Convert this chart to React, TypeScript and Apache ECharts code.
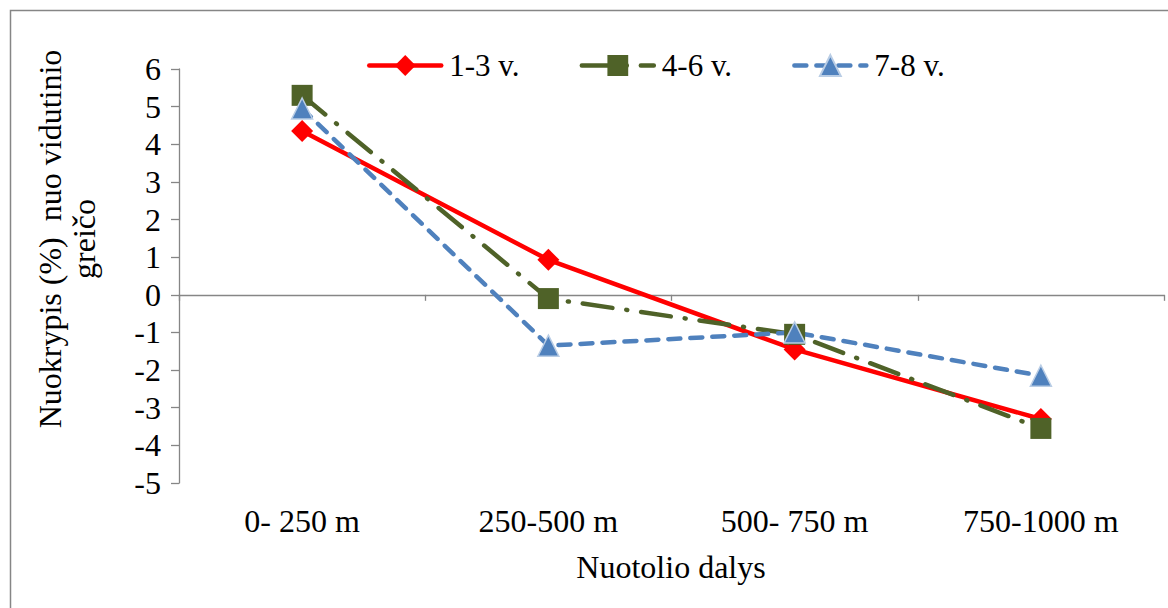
import React, { useEffect, useRef } from "react";
import * as echarts from "echarts";

const categories = ["0- 250 m", "250-500 m", "500- 750 m", "750-1000 m"];
const s13 = [4.35, 0.93, -1.45, -3.3];
const s46 = [5.3, -0.1, -1.05, -3.55];
const s78 = [4.95, -1.35, -1.0, -2.15];
const seriesNames = ["1-3 v.", "4-6 v.", "7-8 v."];
const yMin = -5;
const yMax = 6;
const yInterval = 1;
const yTitleLines = ["Nuokrypis (%)  nuo vidutinio", "greičo"];
const xTitle = "Nuotolio dalys";

const FONT = "'Liberation Serif', 'Times New Roman', serif";
const AXIS = "#868686";
const FS = 32;

export default function App() {
  const ref = useRef<HTMLDivElement>(null);
  useEffect(() => {
    if (!ref.current) return;
    const chart = echarts.init(ref.current, undefined, { renderer: "svg" });
    const grid = { left: 179, right: 4, top: 69, bottom: 125 };
    chart.setOption({
      animation: false,
      backgroundColor: "#ffffff",
      grid,
      legend: {
        top: 45,
        left: 362,
        itemWidth: 72,
        itemHeight: 26,
        itemGap: 60,
        lineStyle: { width: 4.5 },
        textStyle: { fontFamily: FONT, fontSize: 31, color: "#000", padding: [0, 0, 0, 3] },
        data: seriesNames,
      },
      xAxis: [
        {
          type: "category",
          data: categories,
          position: "bottom",
          boundaryGap: true,
          axisLine: { show: false, onZero: false },
          axisTick: { show: false },
          axisLabel: { fontFamily: FONT, fontSize: FS, color: "#000", margin: 22 },
        },
        {
          type: "category",
          data: categories,
          position: "top",
          boundaryGap: true,
          axisLine: { show: true, onZero: true, lineStyle: { color: AXIS, width: 1.3 } },
          axisTick: { show: true, inside: true, length: 6, lineStyle: { color: AXIS, width: 1.3 } },
          axisLabel: { show: false },
        },
      ],
      yAxis: {
        type: "value",
        min: yMin,
        max: yMax,
        interval: yInterval,
        splitLine: { show: false },
        axisLine: { show: true, lineStyle: { color: AXIS, width: 1.3 } },
        axisTick: { show: true, length: 8, lineStyle: { color: AXIS, width: 1.3 } },
        axisLabel: { fontFamily: FONT, fontSize: FS, color: "#000", margin: 18 },
      },
      graphic: [
        {
          type: "rect",
          shape: { x: 10.5, y: 10.5, width: 1300, height: 800 },
          style: { fill: "none", stroke: AXIS, lineWidth: 1.5 },
          silent: true,
        },
        {
          type: "text",
          x: 67,
          y: 239,
          rotation: Math.PI / 2,
          style: {
            text: yTitleLines.join("\n"),
            fontFamily: FONT,
            fontSize: FS,
            lineHeight: 34,
            fill: "#000",
            align: "center",
            verticalAlign: "middle",
          },
        },
        {
          type: "text",
          x: 671,
          y: 567,
          style: {
            text: xTitle,
            fontFamily: FONT,
            fontSize: FS,
            fill: "#000",
            align: "center",
            verticalAlign: "middle",
          },
        },
      ],
      series: [
        {
          name: seriesNames[0],
          type: "line",
          data: s13,
          symbol: "diamond",
          symbolSize: 22,
          lineStyle: { color: "#FF0000", width: 4.5, cap: "round" },
          itemStyle: { color: "#FF0000" },
        },
        {
          name: seriesNames[1],
          type: "line",
          data: s46,
          symbol: "rect",
          symbolSize: 21,
          lineStyle: { color: "#4F6228", width: 4.5, type: [30, 14, 1, 14], cap: "round" },
          itemStyle: { color: "#4F6228" },
        },
        {
          name: seriesNames[2],
          type: "line",
          data: s78,
          symbol: "triangle",
          symbolSize: 21,
          lineStyle: { color: "#4F81BD", width: 4.5, type: [12, 10], cap: "round" },
          itemStyle: { color: "#4F81BD", borderColor: "#B9CDE5", borderWidth: 1.5 },
        },
      ],
    });
    return () => chart.dispose();
  }, []);
  return (
    <div
      ref={ref}
      style={{ position: "fixed", left: 0, top: 0, width: 1168, height: 608, background: "#fff" }}
    />
  );
}
